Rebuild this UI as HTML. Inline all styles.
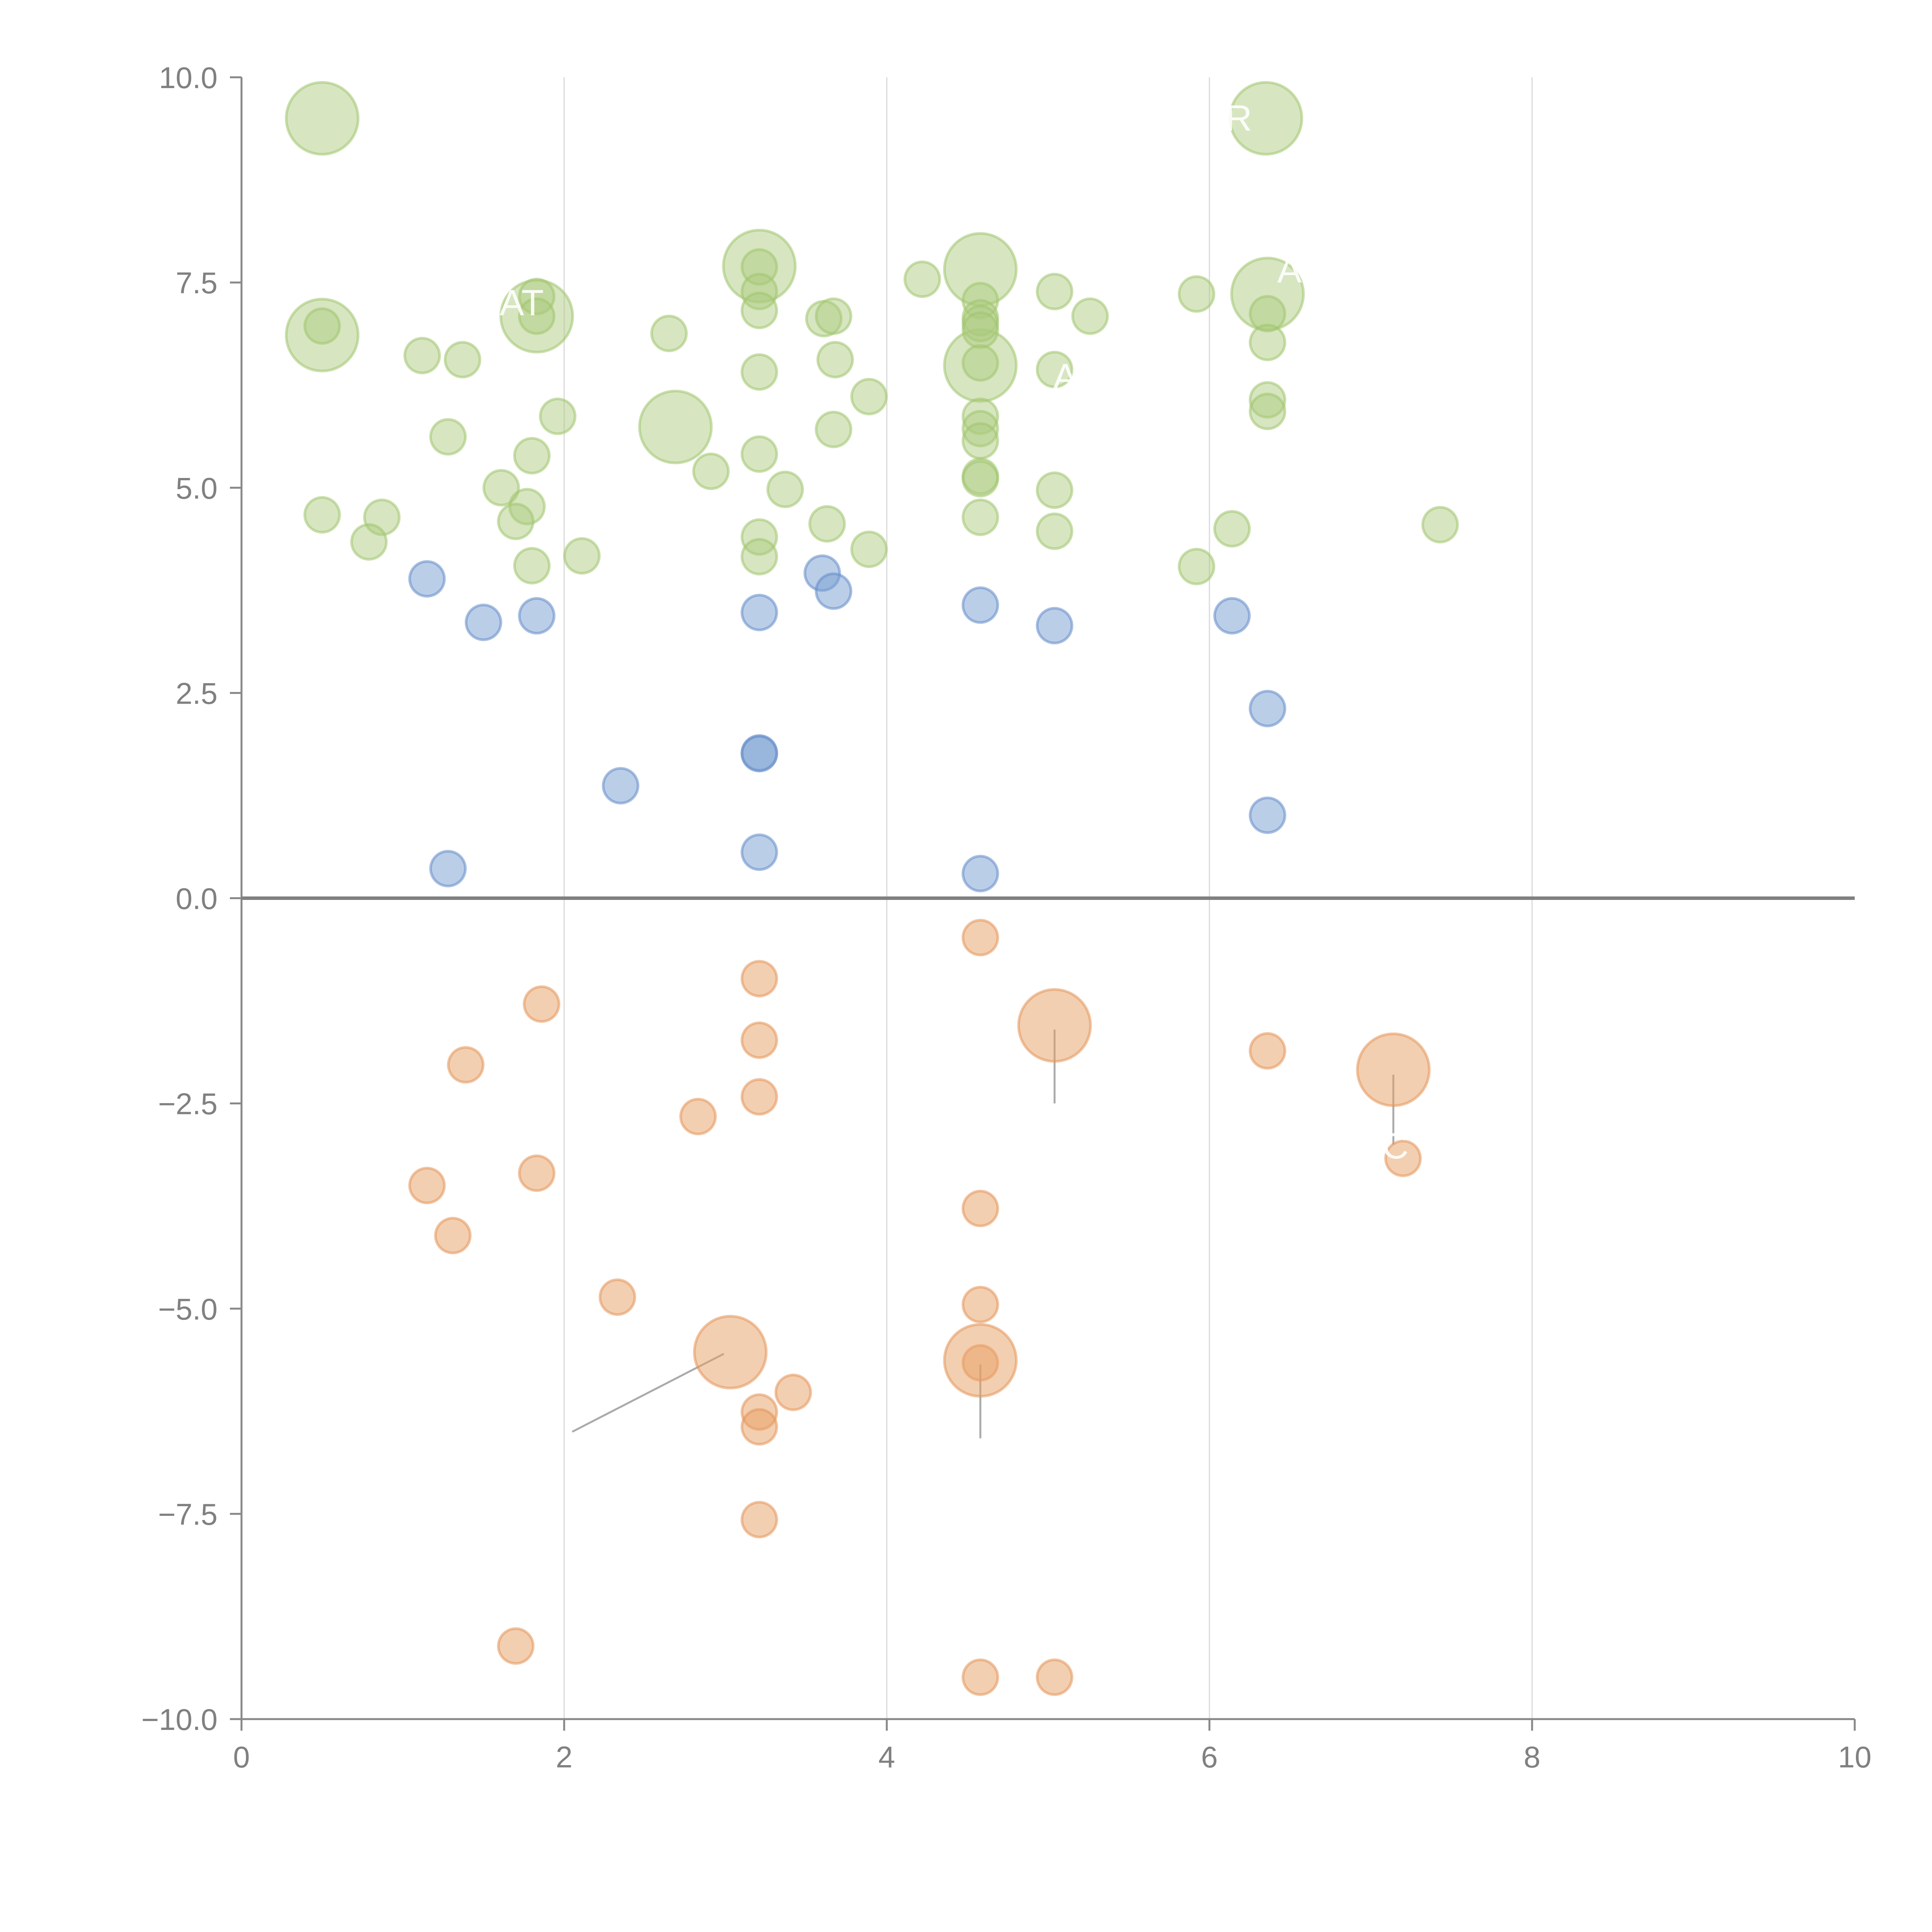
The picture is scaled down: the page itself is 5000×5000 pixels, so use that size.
<!DOCTYPE html>
<html><head><meta charset="utf-8"><style>
html,body{margin:0;padding:0;background:#fff;width:5000px;height:5000px;overflow:hidden}
svg{display:block}
svg text{font-family:"Liberation Sans",sans-serif}
</style></head><body>
<svg id="chart" width="5000" height="5000" viewBox="0 0 5000 5000" xmlns="http://www.w3.org/2000/svg">
<g id="grid"></g>
<g id="axes"></g>
<g id="leaders"></g>
<g id="marks"></g>
<g id="labels"></g>
</svg>
<script>
const xTicks=[0,2,4,6,8,10];
const xTickLabels=["0","2","4","6","8","10"];
const yTicks=[10,7.5,5,2.5,0,-2.5,-5,-7.5,-10];
const yTickLabels=["10.0","7.5","5.0","2.5","0.0","\u22122.5","\u22125.0","\u22127.5","\u221210.0"];

const greenX=[0.50,6.35,0.50,1.83,2.69,3.21,4.58,4.58,6.36,
0.50,1.83,1.83,1.12,1.37,2.65,1.28,1.96,1.80,1.61,1.77,1.70,0.50,0.87,0.79,1.80,2.11,2.91,3.37,3.21,3.21,3.21,3.21,3.21,3.21,3.21,3.63,3.89,3.67,3.68,3.89,3.61,3.67,4.22,4.58,4.58,4.58,4.58,4.58,4.58,4.58,4.58,4.58,4.58,4.58,5.04,5.26,5.04,5.04,5.04,5.92,6.36,6.36,6.36,6.36,5.92,6.14,7.43];
const greenY=[9.50,9.50,6.86,7.09,5.74,7.70,7.66,6.49,7.36,
6.97,7.33,7.09,6.61,6.56,6.88,5.62,5.87,5.39,5.00,4.77,4.59,4.67,4.64,4.34,4.05,4.17,5.20,4.98,7.69,7.39,7.16,6.41,5.41,4.40,4.16,4.56,4.25,5.71,6.56,6.11,7.06,7.09,7.54,7.28,7.07,7.00,6.92,6.52,5.87,5.72,5.57,5.14,5.11,4.64,7.39,7.09,6.44,4.97,4.47,7.36,7.12,6.77,6.07,5.93,4.04,4.50,4.55];
const greenSize=[2,2,2,2,2,2,2,2,2,1,1,1,1,1,1,1,1,1,1,1,1,1,1,1,1,1,1,1,1,1,1,1,1,1,1,1,1,1,1,1,1,1,1,1,1,1,1,1,1,1,1,1,1,1,1,1,1,1,1,1,1,1,1,1,1,1,1];

const blueX=[1.15,1.50,1.83,2.35,1.28,3.21,3.21,3.21,3.21,3.60,3.67,4.58,4.58,5.04,6.14,6.36,6.36];
const blueY=[3.89,3.36,3.44,1.37,0.36,3.48,1.77,1.76,0.56,3.96,3.74,3.57,0.30,3.32,3.44,2.31,1.01];

const orangeX=[4.58,3.21,1.86,1.39,3.21,3.21,2.83,1.15,1.83,1.31,2.33,3.21,3.21,3.42,3.21,4.58,4.58,4.58,1.70,4.58,5.04,6.36,7.20,5.04,7.14,3.03,4.58];
const orangeY=[-0.48,-0.98,-1.29,-2.03,-1.73,-2.42,-2.66,-3.50,-3.35,-4.11,-4.86,-6.26,-6.44,-6.02,-7.57,-3.78,-4.95,-5.66,-9.11,-9.49,-9.49,-1.86,-3.17,-1.55,-2.09,-5.53,-5.63];
const orangeSize=[1,1,1,1,1,1,1,1,1,1,1,1,1,1,1,1,1,1,1,1,1,1,1,2,2,2,2];

const X0=625,X1=4800,Y0=4449,Y1=200;
function sx(v){return X0+(v-0)/(10-0)*(X1-X0);}
function sy(v){return Y0-(v+10)/20*(Y0-Y1);}
function rs(s){return s===2?93:45;}
const NS="http://www.w3.org/2000/svg";
function mk(tag,attrs,parent){const e=document.createElementNS(NS,tag);for(const k in attrs)e.setAttribute(k,attrs[k]);parent.appendChild(e);return e;}
const grid=document.getElementById('grid'),axes=document.getElementById('axes'),marks=document.getElementById('marks'),leaders=document.getElementById('leaders'),labels=document.getElementById('labels');

xTicks.forEach((t,i)=>{
  if(t>0&&t<10){const g=mk('line',{x1:sx(t),x2:sx(t),y1:Y1,y2:Y0,stroke:'#d9d9d9','stroke-width':3},grid);
  
  }
  const tk=mk('line',{x1:sx(t),x2:sx(t),y1:Y0,y2:Y0+30,stroke:'#888','stroke-width':5},axes);
  
  
  const tx=mk('text',{x:sx(t),y:Y0+125,'text-anchor':'middle','font-size':78,fill:'#808080'},axes);
  tx.textContent=xTickLabels[i];
  
  
});
yTicks.forEach((t,i)=>{
  const tk=mk('line',{x1:X0-30,x2:X0,y1:sy(t),y2:sy(t),stroke:'#888','stroke-width':5},axes);
  
  
  const tx=mk('text',{x:X0-62,y:sy(t)+28,'text-anchor':'end','font-size':78,fill:'#808080'},axes);
  tx.textContent=yTickLabels[i];
  
  
});
let a=mk('line',{x1:X0,x2:X0,y1:Y1,y2:Y0,stroke:'#888','stroke-width':5},axes);


a=mk('line',{x1:X0,x2:X1,y1:Y0,y2:Y0,stroke:'#888','stroke-width':5},axes);


a=mk('line',{x1:X0,x2:X1,y1:sy(0),y2:sy(0),stroke:'#808080','stroke-width':9},axes);



function series(xs,ys,sz,fill,stroke,name){
  xs.forEach((x,i)=>{
    const c=mk('circle',{cx:sx(x),cy:sy(ys[i]),r:rs(sz?sz[i]:1),fill:fill,stroke:stroke,'stroke-width':7},marks);
    
    
  });
}
series(greenX,greenY,greenSize,'rgba(172,203,125,0.48)','rgba(160,196,110,0.55)','green-bubble');
series(blueX,blueY,null,'rgba(120,158,210,0.5)','rgba(100,140,200,0.55)','blue-bubble');
series(orangeX,orangeY,orangeSize,'rgba(232,160,100,0.5)','rgba(228,150,90,0.55)','orange-bubble');

const grayLeaders=[[5.04,-1.6,5.04,-2.5],[7.14,-2.15,7.14,-3.0],[2.99,-5.55,2.05,-6.5],[4.58,-5.68,4.58,-6.58]];
grayLeaders.forEach(l=>{const e=mk('line',{x1:sx(l[0]),y1:sy(l[1]),x2:sx(l[2]),y2:sy(l[3]),stroke:'#aaa','stroke-width':5},leaders);

});
const whiteLeaders=[[0.52,9.5,0.72,9.5],[0.52,6.9,0.62,7.17],[2.58,5.52,2.68,5.69],[3.18,7.8,3.14,8.1],[4.61,7.76,4.67,8.0],[4.61,6.46,4.76,6.35],[6.35,9.5,6.28,9.45]];
whiteLeaders.forEach(l=>{const e=mk('line',{x1:sx(l[0]),y1:sy(l[1]),x2:sx(l[2]),y2:sy(l[3]),stroke:'rgba(255,255,255,0.75)','stroke-width':6},leaders);

});
const lbls=[["AT",1.6,7.1],["R",6.1,9.35],["A",6.42,7.5],["A",5.03,6.2],["C",7.07,-3.17]];
lbls.forEach(l=>{const t=mk('text',{x:sx(l[1]),y:sy(l[2]),'font-size':95,fill:'rgba(255,255,255,0.9)'},labels);t.textContent=l[0];

});
</script>
</body></html>
